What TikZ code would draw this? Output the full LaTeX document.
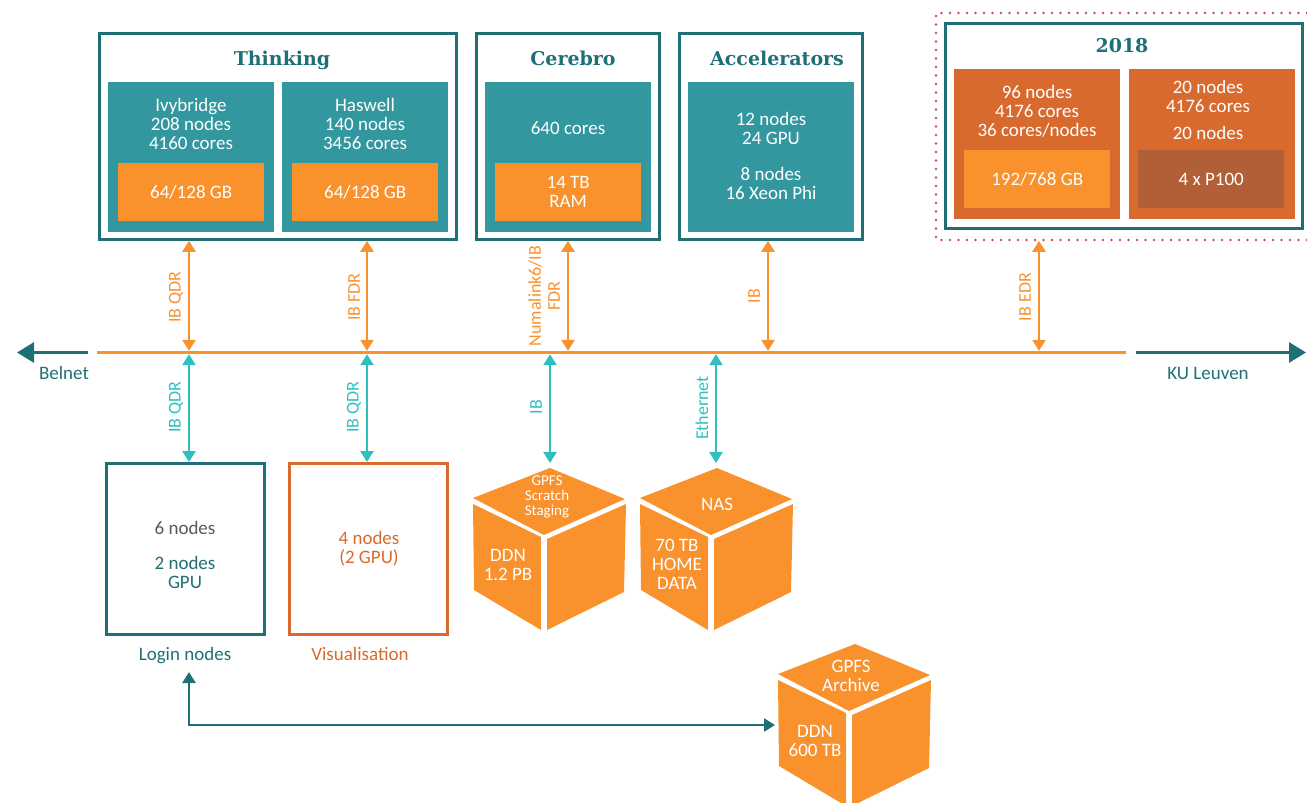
\documentclass[tikz,border=0pt]{standalone}
\usepackage{fontspec}
\setmainfont{Carlito}
\newfontfamily\titlefont{DejaVu Serif}
\usetikzlibrary{arrows.meta}
\definecolor{darkteal}{HTML}{1F7076}
\definecolor{midteal}{HTML}{32979E}
\definecolor{lightteal}{HTML}{2EC0BE}
\definecolor{warmorange}{HTML}{F9912D}
\definecolor{rust}{HTML}{D96A2E}
\definecolor{brownish}{HTML}{B15F36}
\definecolor{dotred}{HTML}{D8454F}
\newcommand{\cubeblock}[2]{
\fill[warmorange] (#1 + 550, #2 + 468) -- (#1 + 625, #2 + 499) -- (#1 + 544, #2 + 535) -- (#1 + 473, #2 + 498) -- cycle;
\fill[warmorange] (#1 + 473, #2 + 504) -- (#1 + 541, #2 + 537) -- (#1 + 541, #2 + 630) -- (#1 + 474, #2 + 590) -- cycle;
\fill[warmorange] (#1 + 547, #2 + 539) -- (#1 + 626, #2 + 504) -- (#1 + 624, #2 + 592) -- (#1 + 547, #2 + 630) -- cycle;}
\tikzset{
  frame/.style={draw=#1, line width=2.8pt, fill=white, inner sep=0pt, anchor=north west},
  block/.style={fill=#1, inner sep=0pt, anchor=north west, minimum width=166pt, minimum height=150pt},
  memblock/.style={fill=#1, inner sep=0pt, anchor=north west, minimum width=146pt, minimum height=58pt},
  txt/.style={text=#1, align=center, inner sep=0pt, font=\fontsize{19}{19}\selectfont},
  txt/.default=white,
  title/.style={text=darkteal, inner sep=0pt, anchor=base, font=\titlefont\bfseries\fontsize{19}{20}\selectfont},
  linklabel/.style={text=#1, rotate=90, align=center, inner sep=0pt, font=\fontsize{18}{19}\selectfont},
  link/.style={draw=#1, line width=2.5pt, {Triangle[length=11pt,width=13pt]}-{Triangle[length=11pt,width=13pt]}}
}

\begin{document}
\begin{tikzpicture}[x=1pt, y=-1pt]
  \useasboundingbox (0, 0) rectangle (1307, 803);
  % boxes on top
  \draw[dotred, line width=2.8pt, line cap=round, dash pattern=on 0pt off 8.5pt] (1307, 13) -- (936, 13) -- (936, 240) -- (1307, 240);
  \node[frame=darkteal, minimum width=357pt, minimum height=206pt] (thinking) at (98, 32) {};
  \node[frame=darkteal, minimum width=183pt, minimum height=206pt] (cerebro) at (475, 32) {};
  \node[frame=darkteal, minimum width=183pt, minimum height=206pt] (accel) at (678, 32) {};
  \node[frame=darkteal, minimum width=357pt, minimum height=205pt] (new) at (944, 22) {};
  \node[title] (thinkingtitle) at (282, 65.5) {Thinking};
  \node[title] (cerebrotitle) at (573, 65.5) {Cerebro};
  \node[title] (acceltitle) at (777, 65.5) {Accelerators};
  \node[title] (newtitle) at (1122, 52.5) {2018};

  \node[block=midteal] (ivy) at (108, 82) {};
  \node[block=midteal] (haswell) at (282, 82) {};
  \node[block=midteal] (cerebroin) at (485, 82) {};
  \node[block=midteal] (accelin) at (688, 82) {};
  \node[block=rust] (newleft) at (954, 69) {};
  \node[block=rust] (newright) at (1129, 69) {};
  \node[memblock=warmorange] (ivymem) at (118, 163) {};
  \node[memblock=warmorange] (haswellmem) at (292, 163) {};
  \node[memblock=warmorange] (cerebromem) at (495, 163) {};
  \node[memblock=warmorange] (newleftmem) at (964, 150) {};
  \node[memblock=brownish] (newrightmem) at (1138, 150) {};

  \node[txt] (ivytxt) at (191, 124) {Ivybridge\\208 nodes\\4160 cores};
  \node[txt] (haswelltxt) at (365, 124) {Haswell\\140 nodes\\3456 cores};
  \node[txt] (cerebrotxt) at (568, 128) {640 cores};
  \node[txt] (acceltxt) at (771, 156) {12 nodes\\24 GPU\\[17pt]8 nodes\\16 Xeon Phi};
  \node[txt] (newlefttxt) at (1037, 111.5) {96 nodes\\4176 cores\\36 cores/nodes};
  \node[txt] (newrighttxt) at (1208, 110) {20 nodes\\4176 cores\\[8pt]20 nodes};
  \node[txt] at (ivymem) {64/128 GB};
  \node[txt] at (haswellmem) {64/128 GB};
  \node[txt] at (cerebromem) {14 TB\\RAM};
  \node[txt] at (newleftmem) {192/768 GB};
  \node[txt] at (newrightmem) {4 x P100};

  % network line
  \node[fill=warmorange, inner sep=0pt, minimum width=1029pt, minimum height=3pt, anchor=west] (bus) at (97, 352.5) {};
  \coordinate (belnet) at (17, 352.5);
  \coordinate (belnetstart) at (88, 352.5);
  \coordinate (leuven) at (1306, 352.5);
  \coordinate (leuvenstart) at (1136, 352.5);
  \draw[darkteal, line width=3pt, -{Triangle[length=17pt,width=20pt]}] (belnetstart) -- (belnet);
  \draw[darkteal, line width=3pt, -{Triangle[length=17pt,width=20pt]}] (leuvenstart) -- (leuven);
  \node[txt=darkteal] (belnettxt) at (64, 373) {Belnet};
  \node[txt=darkteal] (leuventxt) at (1208, 373) {KU Leuven};

  % boxes below
  \node[frame=darkteal, minimum width=158pt, minimum height=171pt] (login) at (105, 462) {};
  \node[frame=rust, minimum width=158pt, minimum height=171pt] (visu) at (288, 462) {};
  \node[txt=black!65] (logintxt) at (185, 528) {6 nodes};
  \node[txt=darkteal] (logingpu) at (185, 572) {2 nodes\\GPU};
  \node[txt=rust] (visutxt) at (369, 549) {4 nodes\\(2 GPU)};
  \node[txt=darkteal, anchor=base] (loginname) at (185, 660) {Login nodes};
  \node[txt=rust, anchor=base] (visuname) at (360, 660) {Visualisation};

  \cubeblock{0}{0}
  \cubeblock{167}{0}
  \cubeblock{305}{176}
  \node[txt, font=\fontsize{15}{15}\selectfont] (scratch) at (547, 497) {GPFS\\Scratch\\Staging};
  \node[txt] (ddn) at (508, 565) {DDN\\1.2 PB};
  \node[txt] (nas) at (717, 504) {NAS};
  \node[txt] (home) at (677, 564) {70 TB\\HOME\\DATA};
  \node[txt] (archive) at (851, 676) {GPFS\\Archive};
  \node[txt] (ddnarchive) at (815, 741) {DDN\\600 TB};
  \coordinate (scratchtop) at (550, 463);
  \coordinate (nastop) at (716, 463);
  \coordinate (archiveleft) at (775, 725);
  \coordinate (loginbottom) at (189, 672);

  % links
  \coordinate (xqdr) at (189, 0);
  \coordinate (xfdr) at (367, 0);
  \coordinate (xnuma) at (568, 0);
  \coordinate (xib) at (768, 0);
  \coordinate (xedr) at (1039, 0);
  \draw[link=warmorange] (thinking.south -| xqdr) -- (bus.north -| xqdr);
  \draw[link=warmorange] (thinking.south -| xfdr) -- (bus.north -| xfdr);
  \draw[link=warmorange] (cerebro.south -| xnuma) -- (bus.north -| xnuma);
  \draw[link=warmorange] (accel.south -| xib) -- (bus.north -| xib);
  \draw[link=warmorange] (new.south -| xedr) ++(0, 11) -- (bus.north -| xedr);
  \draw[link=lightteal] (bus.south -| xqdr) -- (login.north -| xqdr);
  \draw[link=lightteal] (bus.south -| xfdr) -- (visu.north -| xfdr);
  \draw[link=lightteal] (bus.south -| scratchtop) -- (scratchtop);
  \draw[link=lightteal] (bus.south -| nastop) -- (nastop);
  \draw[link=darkteal] (loginbottom) |- (archiveleft);

  \node[linklabel=warmorange] (l1) at (176, 297) {IB QDR};
  \node[linklabel=warmorange] (l2) at (354, 297) {IB FDR};
  \node[linklabel=warmorange] (l3) at (544, 296) {Numalink6/IB\\FDR};
  \node[linklabel=warmorange] (l4) at (754, 296) {IB};
  \node[linklabel=warmorange] (l5) at (1025, 297) {IB EDR};
  \node[linklabel=lightteal] (l6) at (176, 407) {IB QDR};
  \node[linklabel=lightteal] (l7) at (354, 407) {IB QDR};
  \node[linklabel=lightteal] (l8) at (536, 407) {IB};
  \node[linklabel=lightteal] (l9) at (702, 408) {Ethernet};
\end{tikzpicture}
\end{document}
